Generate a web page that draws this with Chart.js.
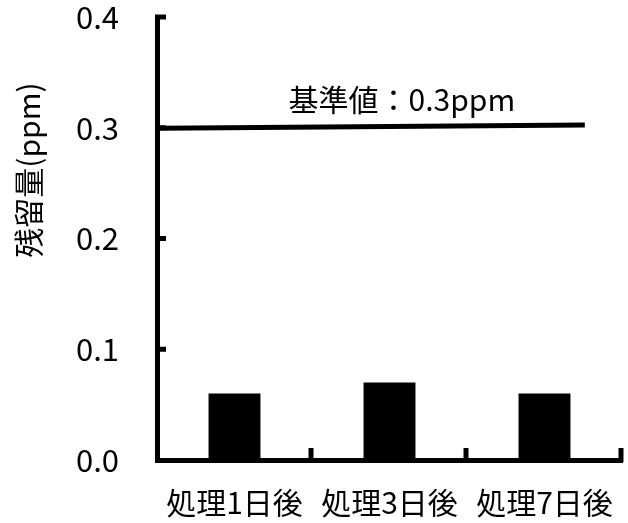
<!DOCTYPE html>
<html><head><meta charset="utf-8">
<script src="https://cdn.jsdelivr.net/npm/chart.js@4"></script>
<style>html,body{margin:0;padding:0;background:#fff}#w{width:628px;height:523px}</style>
</head><body><div id="w"><canvas id="c"></canvas></div>
<script>
const categories = ['処理1日後', '処理3日後', '処理7日後'];
const residues = [0.06, 0.07, 0.06];
const yTicks = [0.0, 0.1, 0.2, 0.3, 0.4];
const refLine = [{x: 0.02, y: 0.2995}, {x: 2.76, y: 0.3025}];
const refLabel = '基準値：0.3ppm';
const refLabelPos = {x: 1.58, y: 0.3255};
const yTitle = '残留量(ppm)';

const FONT = "'Noto Sans CJK JP', 'Noto Sans', sans-serif";

const inwardTicks = {
  id: 'inwardTicks',
  afterDatasetsDraw(chart) {
    const ctx = chart.ctx, y = chart.scales.y, x2 = chart.scales.x2;
    const ca = chart.chartArea;
    ctx.save();
    ctx.strokeStyle = '#000'; ctx.lineWidth = 5; ctx.lineCap = 'butt';
    yTicks.forEach(v => {
      if (v === 0) return;
      const py = y.getPixelForValue(v);
      ctx.beginPath(); ctx.moveTo(ca.left - 2, py); ctx.lineTo(ca.left + 9, py); ctx.stroke();
    });
    for (let i = 1; i <= categories.length; i++) {
      const px = x2.getPixelForValue(i) - 1;
      ctx.beginPath(); ctx.moveTo(px, ca.bottom + 2); ctx.lineTo(px, ca.bottom - 12); ctx.stroke();
    }
    ctx.fillStyle = '#000';
    ctx.font = '30px ' + FONT;
    ctx.textAlign = 'center'; ctx.textBaseline = 'middle';
    ctx.fillText(refLabel, x2.getPixelForValue(refLabelPos.x), y.getPixelForValue(refLabelPos.y));
    // y-axis title
    ctx.save();
    ctx.translate(29, 170);
    ctx.rotate(-Math.PI / 2);
    ctx.font = '30px ' + FONT;
    ctx.fillText(yTitle, 0, 0);
    ctx.restore();
    ctx.restore();
  }
};

new Chart(document.getElementById('c'), {
  type: 'bar',
  data: {
    labels: categories,
    datasets: [
      { type: 'bar', data: residues, backgroundColor: '#000', borderWidth: 0, grouped: false,
        categoryPercentage: 1, barPercentage: 0.335, xAxisID: 'x', yAxisID: 'y' },
      { type: 'line', data: refLine, borderColor: '#000', borderWidth: 5, pointRadius: 0,
        xAxisID: 'x2', yAxisID: 'y', tension: 0 }
    ]
  },
  options: {
    responsive: true, maintainAspectRatio: false, animation: false,
    layout: { padding: { top: 17, right: 6, left: 0, bottom: 0 } },
    plugins: { legend: { display: false }, tooltip: { enabled: false } },
    scales: {
      x: {
        type: 'category',
        grid: { display: false, drawTicks: false },
        border: { color: '#000', width: 5 },
        ticks: { color: '#000', font: { family: FONT, size: 30 }, padding: 25, maxRotation: 0, autoSkip: false },
        afterFit(s) { s.height = 63; s.paddingLeft = 0; s.paddingRight = 0; }
      },
      x2: { type: 'linear', display: false, min: 0, max: 3, offset: false,
        afterFit(s) { s.paddingLeft = 0; s.paddingRight = 0; } },
      y: {
        min: 0, max: 0.4,
        grid: { display: false, drawTicks: false },
        border: { color: '#000', width: 5 },
        ticks: { stepSize: 0.1, color: '#000', font: { family: FONT, size: 31 }, padding: 38,
          callback: v => v.toFixed(1) },
        afterFit(s) { s.width = 157; s.paddingTop = 0; s.paddingBottom = 0; }
      }
    }
  },
  plugins: [inwardTicks]
});
</script></body></html>
